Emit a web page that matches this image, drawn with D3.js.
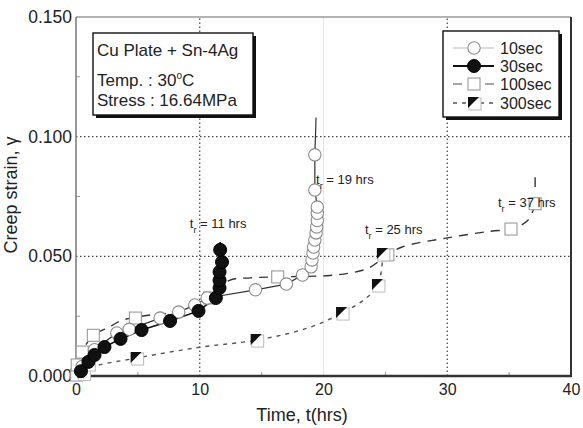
<!DOCTYPE html>
<html>
<head>
<meta charset="utf-8">
<script src="https://cdn.jsdelivr.net/npm/d3@7"></script>
<style>
  body { margin: 0; background: #fff; }
  svg { display: block; font-family: "Liberation Sans", Arial, sans-serif; }
</style>
</head>
<body>
<svg id="chart" width="583" height="428"></svg>
<script>
"use strict";

// ticks
const xTicks = [0, 10, 20, 30, 40];
const yTicks = [0, 0.05, 0.1, 0.15];
const xMinor = [5, 15, 25, 35];
const yMinor = [0.025, 0.075, 0.125];

const seriesNames = ["10sec", "30sec", "100sec", "300sec"];

// 10sec (open circles)
const t10 = [0.5, 1.5, 3.3, 4.3, 6.8, 8.3, 9.6, 10.6, 14.5, 17.0, 18.3, 19.0, 19.07, 19.15, 19.2, 19.3, 19.4, 19.45, 19.5, 19.5, 19.5, 19.3, 19.3];
const s10 = [0.004, 0.011, 0.018, 0.0195, 0.0242, 0.0267, 0.0297, 0.0326, 0.036, 0.0384, 0.0422, 0.0456, 0.0485, 0.0514, 0.0539, 0.0568, 0.0598, 0.0623, 0.065, 0.068, 0.0706, 0.0777, 0.0924];
const t10End = [19.3, 19.4];
const s10End = [0.0924, 0.108];

// 30sec (filled circles)
const t30 = [0.4, 1.0, 1.5, 2.3, 3.6, 5.3, 7.6, 9.9, 11.3, 11.6, 11.6, 11.6, 11.8, 11.65];
const s30 = [0.002, 0.0059, 0.0088, 0.0121, 0.0155, 0.0192, 0.023, 0.0272, 0.0326, 0.0368, 0.040, 0.0435, 0.0476, 0.0527];
const t30End = [11.65, 11.65];
const s30End = [0.0527, 0.056];

// 100sec (open squares) markers and fitted dashed line
const t100 = [0.05, 0.1, 0.5, 1.4, 4.8, 10.8, 16.3, 25.2, 35.15, 37.1];
const s100 = [0.0004, 0.0046, 0.010, 0.017, 0.0242, 0.0326, 0.0414, 0.0506, 0.0614, 0.072];
const t100Line = [0.05, 0.5, 1.4, 2.7, 3.8, 6.0, 7.4, 10.6, 12.4, 14.1, 16.3, 20.5, 22.1, 23.6, 25.2, 26.4, 30.0, 33.5, 35.15, 36.5, 37.1];
const s100Line = [0.0004, 0.010, 0.017, 0.0205, 0.0234, 0.0255, 0.0263, 0.032, 0.040, 0.041, 0.0414, 0.042, 0.043, 0.045, 0.0506, 0.054, 0.0577, 0.0605, 0.0614, 0.065, 0.0715];
const t100Tick = [37.1, 37.1];
const s100Tick = [0.079, 0.083];

// 300sec (half-filled squares) markers and dashed line
const t300 = [0.6, 1.0, 4.9, 14.6, 21.5, 24.4, 24.8];
const s300 = [0.001, 0.005, 0.0075, 0.015, 0.0263, 0.038, 0.051];
const t300Line = [0.6, 1.2, 4.9, 10.0, 14.6, 18.7, 21.5, 23.3, 24.4, 24.8];
const s300Line = [0.001, 0.0035, 0.0075, 0.012, 0.015, 0.020, 0.0263, 0.032, 0.038, 0.051];

// rupture time labels, anchored in data units
const ruptureHrs = ["11", "19", "25", "37"];
const ruptureAtT = [9.2, 19.4, 23.35, 34.1];
const ruptureAtS = [0.0618, 0.0802, 0.0593, 0.0706];

const svg = d3.select("#chart");
const ink = "#222";

const x = d3.scaleLinear().domain([0, 40]).range([76, 571]);
const y = d3.scaleLinear().domain([0, 0.15]).range([376, 17]);

const zip = (ts, ss) => ts.map((t, i) => [t, ss[i]]);

// grid
const grid = svg.append("g");
grid.append("line")
  .attr("x1", x(20)).attr("x2", x(20)).attr("y1", y(0)).attr("y2", y(0.15))
  .attr("stroke", "#e4e4e4").attr("stroke-width", 1);
grid.selectAll(".gx").data([10, 30]).enter().append("line")
  .attr("x1", d => x(d)).attr("x2", d => x(d)).attr("y1", y(0)).attr("y2", y(0.15))
  .attr("stroke", "#444").attr("stroke-width", 1.2).attr("stroke-dasharray", "1.5,2.5");
grid.selectAll(".gy").data([0.05, 0.1]).enter().append("line")
  .attr("x1", x(0)).attr("x2", x(40)).attr("y1", d => y(d)).attr("y2", d => y(d))
  .attr("stroke", "#444").attr("stroke-width", 1.2).attr("stroke-dasharray", "1.5,2.5");

// minor ticks
grid.selectAll(".mx").data(xMinor).enter().append("line")
  .attr("x1", d => x(d)).attr("x2", d => x(d)).attr("y1", y(0)).attr("y2", y(0) - 4)
  .attr("stroke", "#999");
grid.selectAll(".my").data(yMinor).enter().append("line")
  .attr("x1", x(0)).attr("x2", x(0) + 4).attr("y1", d => y(d)).attr("y2", d => y(d))
  .attr("stroke", "#999");

// frame
svg.append("line").attr("x1", x(0)).attr("x2", x(40)).attr("y1", y(0.15)).attr("y2", y(0.15))
  .attr("stroke", "#666").attr("stroke-width", 1.2);
svg.append("line").attr("x1", x(40)).attr("x2", x(40)).attr("y1", y(0.15)).attr("y2", y(0))
  .attr("stroke", "#333").attr("stroke-width", 2);
svg.append("line").attr("x1", x(0)).attr("x2", x(0)).attr("y1", y(0.15)).attr("y2", y(0))
  .attr("stroke", "#777").attr("stroke-width", 1.5);
svg.append("line").attr("x1", x(0)).attr("x2", x(40) + 1).attr("y1", y(0)).attr("y2", y(0))
  .attr("stroke", "#333").attr("stroke-width", 2.5);

// axes labels
const xAxis = svg.append("g").attr("transform", `translate(0,${y(0)})`)
  .call(d3.axisBottom(x).tickValues(xTicks).tickSize(0).tickPadding(8).tickFormat(d3.format("d")));
xAxis.select(".domain").remove();
xAxis.selectAll("text").attr("font-size", 16).attr("fill", ink)
  .attr("font-family", "'Liberation Sans', Arial, sans-serif");

const yAxis = svg.append("g").attr("transform", `translate(${x(0)},0)`)
  .call(d3.axisLeft(y).tickValues(yTicks).tickSize(0).tickPadding(4).tickFormat(d3.format(".3f")));
yAxis.select(".domain").remove();
yAxis.selectAll("text").attr("font-size", 17.5).attr("fill", ink)
  .attr("font-family", "'Liberation Sans', Arial, sans-serif");

svg.append("text")
  .attr("transform", `translate(17,195) rotate(-90)`)
  .attr("text-anchor", "middle").attr("font-size", 18).attr("fill", ink)
  .text("Creep  strain, γ");
svg.append("text")
  .attr("x", 302).attr("y", 421)
  .attr("text-anchor", "middle").attr("font-size", 18).attr("fill", ink)
  .text("Time,  t(hrs)");

// lines
const line = d3.line().x(d => x(d[0])).y(d => y(d[1]));
const smooth = d3.line().x(d => x(d[0])).y(d => y(d[1])).curve(d3.curveCatmullRom.alpha(0.5));

const plot = svg.append("g");

// 100sec
plot.append("path").attr("d", smooth(zip(t100Line, s100Line)))
  .attr("fill", "none").attr("stroke", "#333").attr("stroke-width", 1.4).attr("stroke-dasharray", "9,7");
plot.append("path").attr("d", line(zip(t100Tick, s100Tick)))
  .attr("stroke", "#333").attr("stroke-width", 1.4);

// 10sec
plot.append("path").attr("d", line(zip(t10, s10).concat(zip(t10End, s10End).slice(1))))
  .attr("fill", "none").attr("stroke", "#333").attr("stroke-width", 1.2);

// 300sec
plot.append("path").attr("d", smooth(zip(t300Line, s300Line)))
  .attr("fill", "none").attr("stroke", "#555").attr("stroke-width", 1.4).attr("stroke-dasharray", "4,5");

// 30sec
plot.append("path").attr("d", line(zip(t30, s30).concat(zip(t30End, s30End).slice(1))))
  .attr("fill", "none").attr("stroke", "#111").attr("stroke-width", 1.6);

// marker drawers
function circleOpen(g) {
  g.append("circle").attr("r", 6.2).attr("fill", "#fff").attr("stroke", "#8a8a8a").attr("stroke-width", 1.1);
}
function circleFilled(g) {
  g.append("circle").attr("r", 6.5).attr("fill", "#111").attr("stroke", "#000");
}
function squareOpen(g) {
  g.append("rect").attr("x", -6).attr("y", -6).attr("width", 12).attr("height", 12)
    .attr("fill", "#fff").attr("stroke", "#9a9a9a").attr("stroke-width", 1.1);
}
function squareHalf(g) {
  g.append("rect").attr("x", -5).attr("y", -5).attr("width", 12).attr("height", 12)
    .attr("fill", "#fff").attr("stroke", "#bbb").attr("stroke-width", 1);
  g.append("path").attr("d", "M-6,-6L5,-6L-6,5Z").attr("fill", "#111");
}

function markers(ts, ss, draw) {
  plot.append("g").selectAll("g").data(zip(ts, ss)).enter().append("g")
    .attr("transform", d => `translate(${x(d[0])},${y(d[1])})`)
    .each(function () { draw(d3.select(this)); });
}

markers(t100, s100, squareOpen);
markers(t10, s10, circleOpen);
markers(t300, s300, squareHalf);
markers(t30, s30, circleFilled);

// rupture labels
ruptureHrs.forEach((h, i) => {
  const tx = svg.append("text").attr("x", x(ruptureAtT[i])).attr("y", y(ruptureAtS[i]))
    .attr("font-size", 13).attr("fill", ink);
  tx.append("tspan").text("t");
  tx.append("tspan").attr("dy", 5).attr("font-size", 9).text("r");
  tx.append("tspan").attr("dy", -5).text(` = ${h} hrs`);
});

// shadowed boxes
function shadowBox(x0, y0, w, h) {
  svg.append("rect").attr("x", x0 + 3).attr("y", y0 + 3).attr("width", w).attr("height", h).attr("fill", "#111");
  svg.append("rect").attr("x", x0).attr("y", y0).attr("width", w).attr("height", h)
    .attr("fill", "#fff").attr("stroke", "#111").attr("stroke-width", 1.4);
}

// info box
shadowBox(93, 33, 160, 82);
svg.append("text").attr("x", 97).attr("y", 56).attr("font-size", 17).attr("fill", ink).text("Cu Plate + Sn-4Ag");
const temp = svg.append("text").attr("x", 97).attr("y", 86).attr("font-size", 17).attr("fill", ink);
temp.append("tspan").text("Temp. : 30");
temp.append("tspan").attr("dy", -7).attr("font-size", 10).text("o");
temp.append("tspan").attr("dy", 7).text("C");
svg.append("text").attr("x", 97).attr("y", 106).attr("font-size", 17).attr("fill", ink).text("Stress : 16.64MPa");

// legend
shadowBox(443, 31, 116, 86);
const legendY = [48, 66, 84, 103];
const legendDraw = [circleOpen, circleFilled, squareOpen, squareHalf];
const legendStroke = ["#bbb", "#111", "#888", "#555"];
const legendDash = [null, null, "9,7", "4,5"];
const legendWidth = [1, 2, 1.4, 1.4];
seriesNames.forEach((name, i) => {
  const g = svg.append("g").attr("transform", `translate(0,${legendY[i]})`);
  g.append("line").attr("x1", 453).attr("x2", 494)
    .attr("stroke", legendStroke[i]).attr("stroke-width", legendWidth[i])
    .attr("stroke-dasharray", legendDash[i]);
  const m = g.append("g").attr("transform", "translate(474,0)");
  legendDraw[i](m);
  g.append("text").attr("x", 500).attr("y", 6).attr("font-size", 16).attr("fill", ink).text(name);
});
</script>
</body>
</html>
